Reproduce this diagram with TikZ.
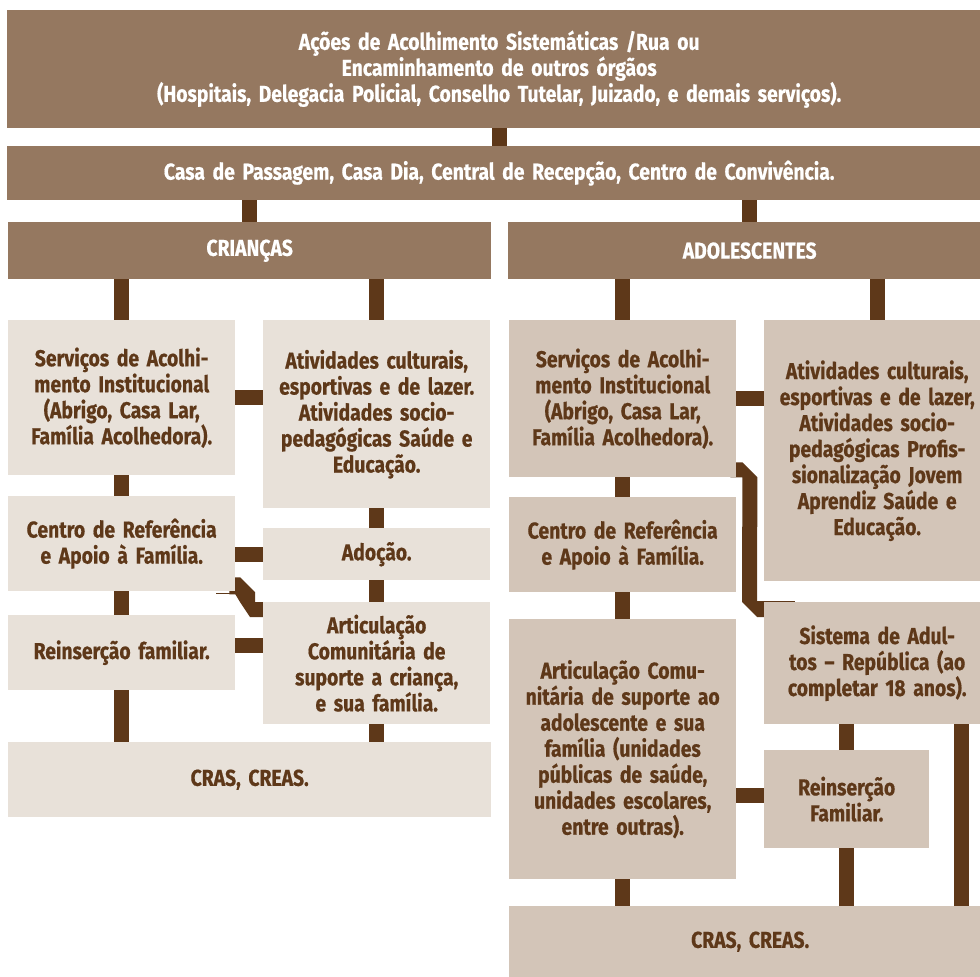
\documentclass[tikz,border=0pt]{standalone}
\usepackage{fontspec}
\newfontfamily\fluxofont{Fira Sans}[FakeStretch=0.84, BoldFeatures={FakeBold=0.6}]
\usetikzlibrary{calc,backgrounds}
\definecolor{cabeca}{RGB}{149,120,96}
\definecolor{escuro}{RGB}{94,56,25}
\definecolor{claro}{RGB}{232,225,217}
\definecolor{medio}{RGB}{211,197,184}
\tikzset{
  caixa/.style={anchor=north west, inner sep=0pt, align=center,
    font=\fluxofont\bfseries\fontsize{23}{26}\selectfont},
  topo/.style={caixa, fill=cabeca, text=white},
  crianca/.style={caixa, fill=claro, text=escuro},
  adol/.style={caixa, fill=medio, text=escuro},
  barra/.style={draw=escuro, line width=15pt},
  fio/.style={draw=escuro, line width=1pt}
}

\begin{document}
\begin{tikzpicture}[x=1pt, y=-1pt]
        \useasboundingbox (0,0) rectangle (980,977);
        % Entrada
        \node[topo, text width=984pt, minimum height=118pt] (topo1) at (7,10) {
          Ações de Acolhimento Sistemáticas /Rua ou\\
          Encaminhamento de outros órgãos\\
          (Hospitais, Delegacia Policial, Conselho Tutelar, Juizado, e demais serviços).};
        \node[topo, text width=984pt, minimum height=54pt] (topo2) at (7,146)
          {Casa de Passagem, Casa Dia, Central de Recepção, Centro de Convivência.};
        \node[topo, text width=483pt, minimum height=57pt] (criancas) at (8,222) {CRIANÇAS};
        \node[topo, text width=483pt, minimum height=57pt] (adolesc) at (508,222) {ADOLESCENTES};

        % Criancas
        \node[crianca, text width=227pt, minimum height=155pt] (servC) at (8,320)
          {Serviços de Acolhi-\\mento Institucional\\(Abrigo, Casa Lar,\\Família Acolhedora).};
        \node[crianca, text width=227pt, minimum height=188pt] (atvC) at (263,320)
          {Atividades culturais,\\esportivas e de lazer.\\Atividades socio-\\pedagógicas Saúde e\\Educação.};
        \node[crianca, text width=227pt, minimum height=95pt] (centroC) at (8,496)
          {Centro de Referência\\e Apoio à Família.};
        \node[crianca, text width=227pt, minimum height=52pt] (adocao) at (263,528) {Adoção.};
        \node[crianca, text width=227pt, minimum height=75pt] (reinsC) at (8,615) {Reinserção familiar.};
        \node[crianca, text width=227pt, minimum height=122pt] (articC) at (263,602)
          {Articulação\\Comunitária de\\suporte a criança,\\e sua família.};
        \node[crianca, text width=483pt, minimum height=75pt] (crasC) at (8,742) {CRAS, CREAS.};

        % Adolescentes
        \node[adol, text width=227pt, minimum height=157pt] (servA) at (509,320)
          {Serviços de Acolhi-\\mento Institucional\\(Abrigo, Casa Lar,\\Família Acolhedora).};
        \node[adol, text width=226pt, minimum height=261pt] (atvA) at (764,320)
          {Atividades culturais,\\esportivas e de lazer,\\Atividades socio-\\pedagógicas Profis-\\sionalização Jovem\\Aprendiz Saúde e\\Educação.};
        \node[adol, text width=227pt, minimum height=95pt] (centroA) at (509,497)
          {Centro de Referência\\e Apoio à Família.};
        \node[adol, text width=227pt, minimum height=260pt] (articA) at (509,619)
          {Articulação Comu-\\nitária de suporte ao\\adolescente e sua\\família (unidades\\públicas de saúde,\\unidades escolares,\\entre outras).};
        \node[adol, text width=226pt, minimum height=122pt] (sistA) at (764,602)
          {Sistema de Adul-\\tos – República (ao\\completar 18 anos).};
        \node[adol, text width=165pt, minimum height=98pt] (reinsA) at (764,750)
          {Reinserção\\Familiar.};
        \node[adol, text width=482pt, minimum height=71pt] (crasA) at (509,906) {CRAS, CREAS.};

        % Ligacoes
        \begin{scope}[on background layer]
          \draw[barra] (topo1.south) -- (topo2.north);
          \draw[barra] (criancas.north) -- (criancas.north |- topo2.south);
          \draw[barra] (adolesc.north) -- (adolesc.north |- topo2.south);
          \draw[barra] (servC.north) -- (servC.north |- criancas.south);
          \draw[barra] (atvC.north) -- (atvC.north |- criancas.south);
          \draw[barra] (servA.north) -- (servA.north |- adolesc.south);
          \draw[barra] (atvA.north) -- (atvA.north |- adolesc.south);

          \draw[barra] (servC.south) -- (centroC.north);
          \draw[barra] (centroC.south) -- (reinsC.north);
          \draw[barra] (reinsC.south) -- (reinsC.south |- crasC.north);
          \draw[barra] (atvC.south) -- (adocao.north);
          \draw[barra] (adocao.south) -- (articC.north);
          \draw[barra] (articC.south) -- (articC.south |- crasC.north);
          \draw[barra] (servC.east) -- (servC.east -| atvC.west);
          \draw[barra] (adocao.west) -- (adocao.west -| centroC.east);
          \draw[barra] ([yshift=7pt]reinsC.east) -- ([yshift=7pt]reinsC.east -| articC.west);
          \fill[escuro] ($(centroC.south east)+(-6,-14)$) -- ($(centroC.south east)+(5,-14)$)
            -- ($(articC.north west)+(-8,-10)$) -- ($(articC.north west)+(-8,0)$)
            -- ($(articC.north west)+(7,0)$) -- ($(articC.north west)+(7,15)$)
            -- ($(articC.north west)+(-13,15)$) -- ($(articC.north west)+(-23,0)$)
            -- ($(centroC.south east)+(0,3)$) -- ($(centroC.south east)+(-6,3)$) -- cycle;

          \draw[barra] (servA.south) -- (centroA.north);
          \draw[barra] (centroA.south) -- (articA.north);
          \draw[barra] (articA.south) -- (articA.south |- crasA.north);
          \draw[barra] (servA.east) -- (servA.east -| atvA.west);
          \draw[barra] ([yshift=4pt]reinsA.west) -- ([yshift=4pt]reinsA.west -| articA.east);
          \draw[barra] (reinsA.north) -- (reinsA.north |- sistA.south);
          \draw[barra] (reinsA.south) -- (reinsA.south |- crasA.north);
          \draw[barra] ([xshift=-29pt]sistA.south east) -- ([xshift=-29pt]sistA.south east |- crasA.north);
          \fill[escuro] ($(servA.south east)+(-6,-15)$) -- ($(servA.south east)+(6,-15)$)
            -- ($(servA.south east)+(21,0)$) -- ($(sistA.north west)+(-7,0)$)
            -- ($(sistA.north west)+(6,0)$) -- ($(sistA.north west)+(6,15)$)
            -- ($(sistA.north west)+(-7,15)$) -- ($(sistA.north west)+(-22,0)$)
            -- ($(servA.south east)+(6,0)$) -- ($(servA.south east)+(-6,0)$) -- cycle;
        \end{scope}
        \draw[fio] ($(centroC.south east)+(-19,2)$) -- ($(centroC.south east)+(5,2)$);
        \draw[fio] ($(sistA.north west)+(-22,-1)$) -- ($(sistA.north west)+(31,-1)$);
\end{tikzpicture}
\end{document}
